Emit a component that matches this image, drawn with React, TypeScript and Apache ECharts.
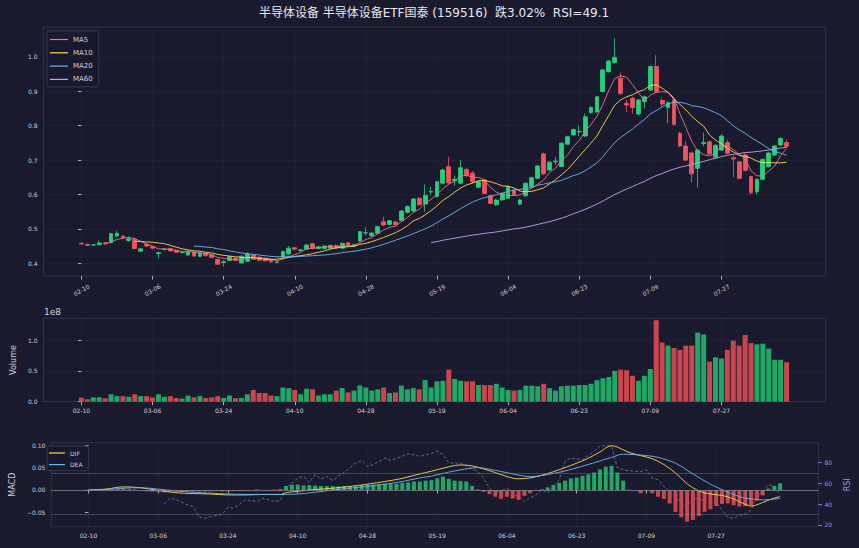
import React, { useEffect, useRef } from "react";
import * as echarts from "echarts";

// ---------- data ----------
const dates = [
  "02-10","02-12","02-14","02-17","02-19","02-21","02-24","02-26","02-28","03-02","03-04","03-05",
  "03-06","03-09","03-10","03-11","03-12","03-13","03-16","03-17","03-18","03-19","03-20","03-23",
  "03-24","03-25","03-26","03-27","03-30","03-31","04-01","04-02","04-03","04-07","04-08","04-09",
  "04-10","04-13","04-14","04-15","04-16","04-17","04-20","04-21","04-22","04-23","04-24","04-27",
  "04-28","04-29","04-30","05-06","05-07","05-08","05-11","05-12","05-13","05-14","05-15","05-18",
  "05-19","05-20","05-21","05-22","05-25","05-26","05-27","05-28","05-29","06-01","06-02","06-03",
  "06-04","06-05","06-08","06-09","06-10","06-11","06-12","06-15","06-16","06-17","06-18","06-19",
  "06-23","06-24","06-25","06-26","06-29","06-30","07-01","07-02","07-03","07-06","07-07","07-08",
  "07-09","07-10","07-13","07-14","07-15","07-16","07-17","07-20","07-21","07-22","07-23","07-24",
  "07-27","07-28","07-29","07-30","07-31","08-03","08-04","08-05","08-06","08-07","08-10","08-11",
];
const xTickIdx = [0, 12, 24, 36, 48, 60, 72, 84, 96, 108];

const opens = [
  0.458,0.455,0.453,0.454,0.460,0.460,0.479,0.479,0.466,0.470,
  0.435,0.455,0.448,0.428,0.440,0.443,0.438,0.431,0.424,0.433,
  0.420,0.429,0.424,0.411,0.402,0.408,0.415,0.401,0.406,0.424,
  0.418,0.414,0.409,0.402,0.418,0.427,0.445,0.437,0.441,0.457,
  0.443,0.443,0.444,0.452,0.444,0.460,0.451,0.465,0.488,0.480,
  0.487,0.521,0.513,0.520,0.524,0.548,0.552,0.589,0.572,0.607,
  0.594,0.633,0.681,0.640,0.633,0.673,0.662,0.621,0.642,0.596,
  0.570,0.584,0.589,0.613,0.572,0.596,0.623,0.647,0.718,0.671,
  0.695,0.681,0.746,0.773,0.782,0.770,0.838,0.840,0.899,0.957,
  0.984,0.938,0.865,0.880,0.834,0.870,0.904,0.972,0.873,0.853,
  0.875,0.778,0.741,0.721,0.676,0.748,0.753,0.708,0.729,0.751,
  0.707,0.695,0.715,0.652,0.608,0.644,0.681,0.715,0.744,0.751,
];
const closes = [
  0.456,0.452,0.454,0.459,0.457,0.486,0.487,0.475,0.471,0.443,
  0.442,0.450,0.444,0.431,0.441,0.436,0.432,0.432,0.434,0.421,
  0.430,0.422,0.417,0.397,0.405,0.419,0.409,0.420,0.427,0.412,
  0.409,0.407,0.404,0.404,0.434,0.444,0.441,0.439,0.453,0.443,
  0.448,0.450,0.452,0.444,0.458,0.452,0.454,0.492,0.489,0.488,
  0.506,0.511,0.524,0.512,0.552,0.565,0.587,0.570,0.598,0.609,
  0.637,0.671,0.634,0.644,0.678,0.655,0.637,0.637,0.603,0.574,
  0.584,0.603,0.623,0.599,0.584,0.633,0.649,0.683,0.660,0.694,
  0.697,0.749,0.768,0.789,0.783,0.826,0.853,0.884,0.962,0.988,
  0.999,0.894,0.860,0.853,0.875,0.884,0.972,0.899,0.863,0.867,
  0.804,0.741,0.700,0.660,0.729,0.751,0.718,0.743,0.770,0.720,
  0.703,0.647,0.670,0.605,0.644,0.702,0.721,0.741,0.763,0.740,
];
const lows = [
  0.454,0.450,0.451,0.452,0.453,0.458,0.476,0.472,0.462,0.441,
  0.433,0.447,0.441,0.414,0.437,0.434,0.430,0.428,0.422,0.419,
  0.418,0.420,0.415,0.395,0.391,0.406,0.407,0.399,0.404,0.410,
  0.406,0.405,0.401,0.400,0.417,0.425,0.438,0.434,0.439,0.441,
  0.441,0.441,0.442,0.442,0.443,0.450,0.449,0.463,0.480,0.477,
  0.485,0.508,0.511,0.510,0.522,0.545,0.550,0.566,0.550,0.598,
  0.592,0.630,0.630,0.625,0.630,0.650,0.633,0.618,0.600,0.571,
  0.567,0.582,0.587,0.596,0.569,0.594,0.620,0.645,0.656,0.668,
  0.685,0.679,0.744,0.770,0.770,0.768,0.835,0.838,0.897,0.955,
  0.980,0.890,0.840,0.835,0.830,0.850,0.902,0.896,0.855,0.807,
  0.800,0.738,0.697,0.635,0.620,0.740,0.715,0.705,0.727,0.717,
  0.650,0.644,0.667,0.600,0.600,0.641,0.678,0.712,0.741,0.735,
];
const highs = [
  0.461,0.457,0.456,0.466,0.462,0.488,0.494,0.481,0.478,0.474,
  0.445,0.458,0.450,0.434,0.444,0.445,0.440,0.434,0.437,0.435,
  0.432,0.431,0.426,0.413,0.408,0.421,0.417,0.425,0.432,0.426,
  0.420,0.416,0.411,0.406,0.437,0.450,0.448,0.442,0.456,0.460,
  0.450,0.452,0.454,0.455,0.460,0.462,0.457,0.494,0.505,0.490,
  0.508,0.535,0.526,0.523,0.555,0.568,0.590,0.592,0.630,0.623,
  0.640,0.675,0.710,0.655,0.700,0.678,0.668,0.640,0.645,0.600,
  0.587,0.606,0.626,0.616,0.587,0.636,0.652,0.686,0.722,0.697,
  0.710,0.752,0.771,0.792,0.800,0.835,0.856,0.887,0.965,0.991,
  1.054,0.955,0.875,0.884,0.878,0.888,0.975,1.005,0.880,0.870,
  0.880,0.782,0.755,0.724,0.732,0.780,0.757,0.746,0.775,0.760,
  0.712,0.698,0.720,0.655,0.647,0.705,0.724,0.744,0.766,0.760,
];

// moving averages (first index given by *_START)
const MA5_START = 4;
const ma5 = [
  0.456,0.462,0.469,0.473,0.475,0.472,0.464,0.456,0.450,0.442,
  0.442,0.440,0.437,0.434,0.435,0.431,0.430,0.428,0.425,0.417,
  0.414,0.412,0.409,0.410,0.416,0.417,0.415,0.415,0.412,0.407,
  0.412,0.419,0.425,0.432,0.442,0.444,0.445,0.447,0.449,0.447,
  0.450,0.451,0.452,0.460,0.469,0.475,0.486,0.497,0.504,0.508,
  0.521,0.533,0.548,0.557,0.574,0.586,0.600,0.617,0.630,0.639,
  0.653,0.656,0.650,0.650,0.642,0.621,0.607,0.600,0.597,0.597,
  0.599,0.608,0.618,0.630,0.642,0.664,0.677,0.697,0.714,0.739,
  0.757,0.783,0.804,0.827,0.862,0.903,0.937,0.945,0.941,0.919,
  0.896,0.873,0.889,0.897,0.899,0.897,0.881,0.835,0.795,0.754,
  0.727,0.716,0.712,0.720,0.742,0.740,0.731,0.717,0.702,0.669,
  0.654,0.654,0.668,0.683,0.714,0.733,
];
const MA10_START = 9;
const ma10 = [
  0.464,0.463,0.462,0.461,0.459,0.457,0.452,0.447,0.442,0.439,
  0.436,0.435,0.432,0.430,0.426,0.423,0.421,0.419,0.417,0.417,
  0.416,0.414,0.412,0.411,0.412,0.415,0.417,0.420,0.422,0.425,
  0.428,0.432,0.436,0.441,0.445,0.447,0.448,0.449,0.455,0.458,
  0.463,0.469,0.475,0.482,0.489,0.498,0.509,0.523,0.530,0.541,
  0.553,0.567,0.583,0.594,0.607,0.619,0.628,0.633,0.640,0.641,
  0.637,0.632,0.625,0.624,0.619,0.610,0.608,0.609,0.614,0.619,
  0.631,0.643,0.657,0.672,0.691,0.711,0.730,0.750,0.770,0.801,
  0.830,0.860,0.875,0.884,0.890,0.899,0.905,0.917,0.919,0.909,
  0.897,0.877,0.862,0.846,0.827,0.812,0.799,0.773,0.758,0.748,
  0.734,0.724,0.714,0.711,0.706,0.697,0.692,0.693,0.692,0.692,
  0.694,
];
const MA20_START = 19;
const ma20 = [
  0.450,0.449,0.447,0.446,0.442,0.440,0.436,0.433,0.430,0.428,
  0.426,0.424,0.422,0.420,0.419,0.419,0.419,0.419,0.420,0.421,
  0.422,0.423,0.424,0.426,0.428,0.431,0.433,0.435,0.438,0.441,
  0.445,0.450,0.455,0.461,0.467,0.473,0.479,0.486,0.493,0.500,
  0.508,0.518,0.529,0.538,0.548,0.559,0.569,0.578,0.585,0.591,
  0.595,0.599,0.604,0.609,0.613,0.615,0.618,0.621,0.627,0.630,
  0.634,0.637,0.641,0.648,0.655,0.660,0.669,0.680,0.692,0.710,
  0.731,0.751,0.766,0.778,0.790,0.805,0.818,0.834,0.844,0.855,
  0.863,0.869,0.868,0.865,0.858,0.856,0.852,0.845,0.838,0.829,
  0.815,0.800,0.788,0.778,0.766,0.755,0.745,0.733,0.725,0.720,
  0.714,
];
const MA60_START = 59;
const ma60 = [
  0.460,0.463,0.467,0.470,0.473,0.476,0.479,0.482,0.484,0.487,
  0.489,0.491,0.494,0.497,0.500,0.502,0.505,0.509,0.513,0.517,
  0.521,0.526,0.531,0.537,0.544,0.550,0.557,0.564,0.572,0.581,
  0.590,0.600,0.608,0.616,0.623,0.631,0.638,0.647,0.655,0.661,
  0.668,0.674,0.679,0.683,0.687,0.692,0.696,0.701,0.705,0.710,
  0.714,0.717,0.719,0.722,0.723,0.725,0.727,0.729,0.732,0.735,
  0.737,
];

// volume, in units of 1e8
const volume = [
  0.065,0.04,0.07,0.07,0.055,0.12,0.09,0.09,0.08,0.12,
  0.09,0.09,0.07,0.12,0.08,0.09,0.06,0.05,0.10,0.07,
  0.09,0.06,0.07,0.09,0.06,0.10,0.055,0.06,0.12,0.19,
  0.14,0.14,0.10,0.09,0.23,0.22,0.19,0.12,0.21,0.20,
  0.10,0.12,0.12,0.18,0.22,0.15,0.18,0.26,0.23,0.18,
  0.20,0.23,0.14,0.15,0.26,0.20,0.22,0.20,0.35,0.23,
  0.33,0.34,0.52,0.37,0.34,0.33,0.33,0.27,0.27,0.27,
  0.29,0.23,0.19,0.18,0.19,0.26,0.26,0.25,0.29,0.22,
  0.18,0.25,0.26,0.26,0.27,0.27,0.29,0.35,0.38,0.40,
  0.50,0.52,0.51,0.42,0.34,0.42,0.53,1.32,0.96,0.91,
  0.87,0.84,0.91,0.91,1.12,1.09,0.65,0.72,0.70,0.84,
  0.99,0.91,1.08,0.95,0.93,0.94,0.86,0.68,0.68,0.64,
];

// MACD histogram per bar
const macdHist = [
  0,0,0.0005,0.001,0.001,0.002,0.003,0.002,0.001,-0.001,
  -0.003,-0.004,-0.004,-0.005,-0.004,-0.004,-0.004,-0.003,-0.003,-0.003,
  -0.003,-0.003,-0.002,-0.003,-0.003,-0.002,-0.002,-0.001,0,0.001,
  0,0,0.001,0.002,0.009,0.012,0.012,0.010,0.011,0.010,
  0.009,0.009,0.009,0.008,0.009,0.008,0.008,0.011,0.012,0.012,
  0.013,0.014,0.014,0.014,0.016,0.017,0.019,0.019,0.021,0.022,
  0.026,0.030,0.025,0.021,0.020,0.019,0.009,0.0015,-0.004,-0.009,
  -0.015,-0.020,-0.015,-0.019,-0.022,-0.013,-0.0075,-0.002,0.0015,0.006,
  0.011,0.016,0.021,0.026,0.028,0.032,0.035,0.039,0.046,0.052,
  0.054,0.039,0.021,0.001,-0.0015,-0.0075,-0.001,-0.0075,-0.015,-0.020,
  -0.030,-0.049,-0.061,-0.071,-0.067,-0.058,-0.049,-0.043,-0.036,-0.031,
  -0.030,-0.034,-0.037,-0.036,-0.034,-0.024,-0.012,0.003,0.009,0.015,
];

// DIF / DEA points [bar index, value]
const dif = [
  [0,0],[3,0.002],[6,0.007],[9,0.005],[12,-0.001],[15,-0.006],[18,-0.008],[21,-0.009],
  [24,-0.011],[27,-0.011],[30,-0.010],[33,-0.010],[34,-0.006],[36,-0.003],[39,0.001],
  [42,0.004],[45,0.008],[48,0.013],[51,0.019],[54,0.026],[57,0.036],[59,0.042],[62,0.052],
  [64,0.056],[66,0.054],[68,0.047],[70,0.039],[72,0.030],[74,0.025],[76,0.027],[78,0.033],
  [80,0.041],[82,0.050],[84,0.060],[86,0.071],[88,0.085],[90,0.099],[91,0.096],[93,0.084],
  [95,0.077],[97,0.070],[99,0.057],[101,0.038],[103,0.014],[105,-0.002],[107,-0.009],
  [109,-0.012],[111,-0.020],[113,-0.032],[114,-0.036],[116,-0.028],[118,-0.018],[119,-0.015],
];
const dea = [
  [0,0],[3,0.001],[6,0.004],[9,0.005],[12,0.002],[15,-0.002],[18,-0.005],[21,-0.007],
  [24,-0.009],[27,-0.010],[30,-0.010],[33,-0.010],[36,-0.009],[39,-0.005],[42,0.000],
  [45,0.004],[48,0.008],[51,0.013],[54,0.019],[57,0.027],[59,0.031],[62,0.040],[64,0.045],
  [67,0.050],[70,0.044],[73,0.036],[76,0.030],[80,0.037],[83,0.046],[87,0.061],[90,0.073],
  [92,0.080],[94,0.079],[96,0.077],[98,0.073],[101,0.060],[104,0.036],[107,0.013],
  [109,0.001],[112,-0.015],[114,-0.020],[116,-0.022],[119,-0.019],
];

// RSI points [bar index, value]
const rsi = [
  [13,40.3],[14,45.8],[15,44.8],[17,39.4],[18,37.7],[19,28.0],[20,26.4],[21,28.0],[23,30.6],
  [24,37.1],[25,36.1],[27,44.2],[29,42.6],[30,45.8],[32,42.6],[33,43.5],[34,55.5],[36,65.2],
  [37,66.8],[38,61.0],[39,68.4],[40,64.2],[41,66.8],[42,62.9],[44,70.7],[46,79.7],[47,82.3],
  [48,76.5],[49,78.1],[51,84.5],[52,82.3],[54,86.2],[55,88.8],[57,86.2],[59,88.8],[60,91.1],
  [61,87.8],[62,79.7],[64,79.7],[65,76.5],[67,71.6],[68,65.2],[69,55.5],[70,50.7],[72,55.5],
  [73,50.7],[75,42.6],[77,49.1],[78,53.9],[79,50.7],[81,63.6],[82,81.4],[83,84.5],[85,82.9],
  [87,91.1],[88,95.9],[89,96.6],[90,95.9],[91,74.9],[92,73.2],[94,71.6],[95,71.6],[96,73.2],
  [97,65.2],[98,63.6],[99,57.1],[100,52.3],[101,47.4],[102,40.3],[103,37.7],[104,45.8],
  [106,43.5],[107,40.3],[108,42.6],[109,34.5],[110,27.4],[111,26.4],[112,29.6],[113,30.5],
  [114,34.5],[115,47.4],[116,52.3],[117,58.8],[118,57.1],[119,49.1],
];

const priceTicks = [0.4, 0.5, 0.6, 0.7, 0.8, 0.9, 1.0];
const volTicks = [0, 0.5, 1.0];
const macdTicks = [-0.05, 0, 0.05, 0.1];
const rsiTicks = [20, 40, 60, 80];
const rsiLevels = [70, 30];

const TITLE = "半导体设备 半导体设备ETF国泰 (159516)  跌3.02%  RSI=49.1";

// ---------- styles ----------
const BG = "#1a1a2e";
const FONT = "'DejaVu Sans', 'Noto Sans CJK SC', sans-serif";
const TXT = "#d0d0d8";
const FRAME = "#2f2f4a";
const UP = "#26d07c";
const DOWN = "#ef5560";
const VUP = "#1fa866";
const VDOWN = "#c9464f";
const C_MA5 = "#f0708a";
const C_MA10 = "#ffd84d";
const C_MA20 = "#6cb6ee";
const C_MA60 = "#c79ef0";
const C_RSI = "rgba(150,130,185,0.75)";
const C_RSI_AX = "#a58fd8";
const GRID_LEFT = 43.5;
const GRID_RIGHT = 33.3;
const XMIN = -6.4;
const XMAX = 125.6;

function fmtMacd(v: number) {
  const s = Math.abs(v).toFixed(2);
  return v < -1e-9 ? "\u2212" + s : s;
}

function buildOption() {
  const faint = { show: true, lineStyle: { color: "rgba(255,255,255,0.035)", width: 0.8 } };
  const xAxisBase = (gridIndex: number, rotated: boolean) => ({
    type: "value",
    gridIndex,
    min: XMIN,
    max: XMAX,
    axisLine: { show: false },
    axisTick: {
      show: true,
      length: 3.5,
      lineStyle: { color: TXT, width: 0.8 },
      customValues: xTickIdx,
    },
    axisLabel: {
      customValues: xTickIdx,
      formatter: (v: number) => dates[Math.round(v)] ?? "",
      color: TXT,
      fontSize: 6,
      fontFamily: FONT,
      margin: rotated ? 14 : 6,
      rotate: rotated ? 30 : 0,
      align: "center",
      verticalAlign: rotated ? "middle" : "top",
    },
    splitLine: faint,
  });
  const yTick = (vals: number[], color = TXT) => ({
    show: true,
    length: 3.5,
    lineStyle: { color, width: 0.8 },
    customValues: vals,
  });
  const yLabel = (vals: number[], fmt: (v: number) => string, color = TXT) => ({
    customValues: vals,
    formatter: fmt,
    color,
    fontSize: 6,
    fontFamily: FONT,
    margin: 6,
  });
  const gridBase = {
    left: GRID_LEFT,
    right: GRID_RIGHT,
    show: true,
    borderColor: FRAME,
    borderWidth: 1,
    backgroundColor: "transparent",
    containLabel: false,
  };
  const lineSeries = (name: string, arr: number[], start: number, color: string) => ({
    name,
    type: "line",
    xAxisIndex: 0,
    yAxisIndex: 0,
    data: arr.map((v, k) => [k + start, v]),
    showSymbol: false,
    symbol: "none",
    lineStyle: { color, width: 0.9 },
    itemStyle: { color },
    z: 3,
  });

  return {
    backgroundColor: BG,
    animation: false,
    textStyle: { fontFamily: FONT },
    grid: [
      { ...gridBase, top: 27, height: 249 },
      { ...gridBase, top: 318.3, height: 83.4 },
      { ...gridBase, top: 442.7, height: 84 },
    ],
    xAxis: [xAxisBase(0, true), xAxisBase(1, false), xAxisBase(2, false)],
    yAxis: [
      {
        type: "value",
        gridIndex: 0,
        min: 0.363,
        max: 1.087,
        axisLine: { show: false },
        axisTick: yTick(priceTicks),
        axisLabel: yLabel(priceTicks, (v: number) => v.toFixed(1)),
        splitLine: faint,
      },
      {
        type: "value",
        gridIndex: 1,
        min: 0,
        max: 1.352,
        axisLine: { show: false },
        axisTick: yTick(volTicks),
        axisLabel: yLabel(volTicks, (v: number) => v.toFixed(1)),
        splitLine: faint,
        name: "Volume",
        nameLocation: "middle",
        nameGap: 26,
        nameTextStyle: { color: TXT, fontSize: 8, fontFamily: FONT },
      },
      {
        type: "value",
        gridIndex: 2,
        min: -0.0821,
        max: 0.1058,
        axisLine: { show: false },
        axisTick: yTick(macdTicks),
        axisLabel: yLabel(macdTicks, fmtMacd),
        splitLine: { show: false },
        name: "MACD",
        nameLocation: "middle",
        nameGap: 30,
        nameTextStyle: { color: TXT, fontSize: 8, fontFamily: FONT },
      },
      {
        type: "value",
        gridIndex: 2,
        position: "right",
        min: 18.36,
        max: 99.27,
        axisLine: { show: false },
        axisTick: yTick(rsiTicks, C_RSI_AX),
        axisLabel: yLabel(rsiTicks, (v: number) => String(v), C_RSI_AX),
        splitLine: { show: false },
        name: "RSI",
        nameLocation: "middle",
        nameGap: 18,
        nameRotate: 90,
        nameTextStyle: { color: C_RSI_AX, fontSize: 8, fontFamily: FONT },
      },
    ],
    legend: [
      {
        data: ["MA5", "MA10", "MA20", "MA60"].map((n) => ({ name: n, icon: "rect" })),
        orient: "vertical",
        left: 47,
        top: 31,
        itemWidth: 18,
        itemHeight: 1.2,
        itemGap: 4.3,
        padding: [4, 6, 3, 3],
        backgroundColor: "rgba(26,26,46,0.85)",
        borderColor: "#3a3a56",
        borderWidth: 0.8,
        borderRadius: 2,
        textStyle: { color: TXT, fontSize: 7, fontFamily: FONT, lineHeight: 9 },
      },
      {
        data: ["DIF", "DEA"].map((n) => ({ name: n, icon: "rect" })),
        orient: "vertical",
        left: 47,
        top: 446,
        itemWidth: 16,
        itemHeight: 1.2,
        itemGap: 3.6,
        padding: [3, 6, 2, 2],
        backgroundColor: "rgba(26,26,46,0.85)",
        borderColor: "#3a3a56",
        borderWidth: 0.8,
        borderRadius: 2,
        textStyle: { color: TXT, fontSize: 6, fontFamily: FONT, lineHeight: 8 },
      },
    ],
    graphic: {
      elements: [
        {
          type: "text",
          x: 434,
          y: 13,
          style: {
            text: TITLE,
            fill: "#e8e8ee",
            fontSize: 12,
            fontFamily: FONT,
            align: "center",
            verticalAlign: "middle",
          },
        },
        {
          type: "text",
          x: 44,
          y: 312,
          style: {
            text: "1e8",
            fill: TXT,
            fontSize: 9,
            fontFamily: FONT,
            align: "left",
            verticalAlign: "middle",
          },
        },
      ],
    },
    series: [
      {
        name: "K",
        type: "candlestick",
        xAxisIndex: 0,
        yAxisIndex: 0,
        data: closes.map((c, i) => [i, opens[i], c, lows[i], highs[i]]),
        encode: { x: 0, y: [1, 2, 3, 4] },
        barWidth: 4.3,
        itemStyle: {
          color: UP,
          color0: DOWN,
          borderColor: UP,
          borderColor0: DOWN,
          borderWidth: 0.8,
        },
        z: 2,
      },
      lineSeries("MA5", ma5, MA5_START, C_MA5),
      lineSeries("MA10", ma10, MA10_START, C_MA10),
      lineSeries("MA20", ma20, MA20_START, C_MA20),
      lineSeries("MA60", ma60, MA60_START, C_MA60),
      {
        name: "Volume",
        type: "bar",
        xAxisIndex: 1,
        yAxisIndex: 1,
        barWidth: 5,
        data: volume.map((v, i) => ({
          value: [i, v],
          itemStyle: { color: closes[i] >= opens[i] ? VUP : VDOWN },
        })),
      },
      {
        name: "Hist",
        type: "bar",
        xAxisIndex: 2,
        yAxisIndex: 2,
        barWidth: 4,
        data: macdHist.map((v, i) => ({
          value: [i, v],
          itemStyle: { color: v >= 0 ? VUP : VDOWN },
        })),
        markLine: {
          silent: true,
          symbol: "none",
          label: { show: false },
          lineStyle: { color: "#80808e", width: 0.8, type: "solid" },
          data: [{ yAxis: 0 }],
        },
        z: 2,
      },
      {
        name: "RSI",
        type: "line",
        xAxisIndex: 2,
        yAxisIndex: 3,
        data: rsi,
        showSymbol: false,
        symbol: "none",
        lineStyle: { color: C_RSI, width: 0.9, type: [3, 2] },
        markLine: {
          silent: true,
          symbol: "none",
          label: { show: false },
          lineStyle: { color: "rgba(140,140,165,0.45)", width: 0.8, type: "solid" },
          data: rsiLevels.map((v) => ({ yAxis: v })),
        },
        z: 1,
      },
      {
        name: "DIF",
        type: "line",
        xAxisIndex: 2,
        yAxisIndex: 2,
        data: dif,
        smooth: 0.35,
        showSymbol: false,
        symbol: "none",
        lineStyle: { color: C_MA10, width: 0.9 },
        itemStyle: { color: C_MA10 },
        z: 4,
      },
      {
        name: "DEA",
        type: "line",
        xAxisIndex: 2,
        yAxisIndex: 2,
        data: dea,
        smooth: 0.35,
        showSymbol: false,
        symbol: "none",
        lineStyle: { color: C_MA20, width: 0.9 },
        itemStyle: { color: C_MA20 },
        z: 4,
      },
    ],
  };
}

export default function App() {
  const ref = useRef<HTMLDivElement>(null);
  useEffect(() => {
    document.body.style.margin = "0";
    document.body.style.background = BG;
    const chart = echarts.init(ref.current!, null, { renderer: "svg" });
    chart.setOption(buildOption() as any);
    return () => chart.dispose();
  }, []);
  return <div ref={ref} style={{ width: 859, height: 548 }} />;
}
